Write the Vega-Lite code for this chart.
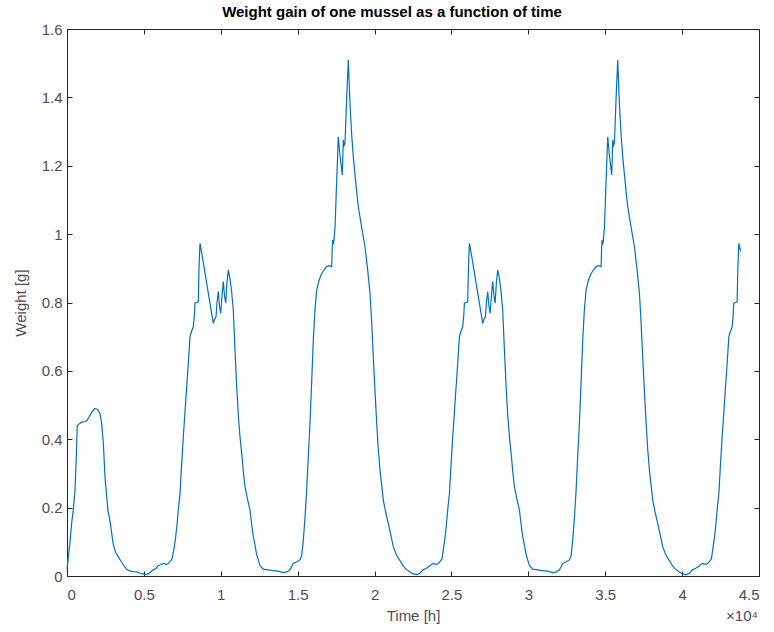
{
  "$schema": "https://vega.github.io/schema/vega-lite/v6.json",
  "autosize": {"type": "none"},
  "width": 692,
  "height": 547,
  "padding": {"left": 67, "top": 29, "right": 15, "bottom": 56},
  "background": "white",
  "title": {
    "text": "Weight gain of one mussel as a function of time",
    "font": "Liberation Sans",
    "fontSize": 15,
    "fontWeight": "bold",
    "color": "#000000",
    "anchor": "middle",
    "dx": -21,
    "offset": 2
  },
  "datasets": {
    "mussel": [
      {"t":0,"w":0.02},{"t":98,"w":0.06},{"t":195,"w":0.10},{"t":306,"w":0.155},{"t":423,"w":0.20},{"t":520,"w":0.25},{"t":605,"w":0.35},{"t":670,"w":0.44},{"t":780,"w":0.445},{"t":975,"w":0.45},{"t":1171,"w":0.452},{"t":1301,"w":0.455},{"t":1431,"w":0.465},{"t":1626,"w":0.48},{"t":1821,"w":0.49},{"t":1983,"w":0.487},{"t":2146,"w":0.475},{"t":2244,"w":0.45},{"t":2361,"w":0.39},{"t":2471,"w":0.29},{"t":2582,"w":0.232},{"t":2666,"w":0.19},{"t":2751,"w":0.173},{"t":2861,"w":0.14},{"t":3011,"w":0.092},{"t":3154,"w":0.07},{"t":3336,"w":0.056},{"t":3512,"w":0.043},{"t":3707,"w":0.03},{"t":3882,"w":0.019},{"t":4097,"w":0.015},{"t":4292,"w":0.013},{"t":4533,"w":0.012},{"t":4747,"w":0.008},{"t":4942,"w":0.006},{"t":5072,"w":0.004},{"t":5267,"w":0.006},{"t":5397,"w":0.01},{"t":5612,"w":0.018},{"t":5788,"w":0.022},{"t":5918,"w":0.03},{"t":6048,"w":0.032},{"t":6262,"w":0.037},{"t":6438,"w":0.034},{"t":6568,"w":0.036},{"t":6698,"w":0.042},{"t":6828,"w":0.05},
      {"t":6958,"w":0.08},{"t":7056,"w":0.11},{"t":7153,"w":0.15},{"t":7251,"w":0.2},{"t":7348,"w":0.24},{"t":7446,"w":0.32},{"t":7563,"w":0.407},{"t":7674,"w":0.48},{"t":7784,"w":0.554},{"t":7901,"w":0.63},{"t":7999,"w":0.70},{"t":8096,"w":0.715},{"t":8213,"w":0.729},{"t":8278,"w":0.76},{"t":8324,"w":0.798},{"t":8421,"w":0.80},{"t":8538,"w":0.802},{"t":8584,"w":0.90},{"t":8649,"w":0.973},{"t":8779,"w":0.94},{"t":8909,"w":0.905},{"t":9085,"w":0.856},{"t":9234,"w":0.815},{"t":9364,"w":0.78},{"t":9514,"w":0.739},{"t":9592,"w":0.75},{"t":9689,"w":0.758},{"t":9754,"w":0.80},{"t":9839,"w":0.832},{"t":9917,"w":0.79},{"t":9995,"w":0.768},{"t":10080,"w":0.82},{"t":10164,"w":0.861},{"t":10242,"w":0.82},{"t":10320,"w":0.798},{"t":10405,"w":0.86},{"t":10489,"w":0.895},{"t":10600,"w":0.87},{"t":10710,"w":0.83},{"t":10814,"w":0.778},{"t":10925,"w":0.66},{"t":11036,"w":0.554},{"t":11140,"w":0.47},{"t":11250,"w":0.407},{"t":11380,"w":0.35},{"t":11478,"w":0.30},{"t":11575,"w":0.261},{"t":11738,"w":0.225},{"t":11900,"w":0.193},{"t":11998,"w":0.155},{"t":12115,"w":0.115},{"t":12226,"w":0.09},{"t":12323,"w":0.065},{"t":12440,"w":0.047},{"t":12551,"w":0.03},{"t":12766,"w":0.02},{"t":13071,"w":0.018},{"t":13416,"w":0.016},{"t":13721,"w":0.014},{"t":14066,"w":0.01},{"t":14307,"w":0.012},{"t":14502,"w":0.018},{"t":14612,"w":0.027},{"t":14716,"w":0.037},{"t":14892,"w":0.04},{"t":15152,"w":0.047},{"t":15263,"w":0.06},{"t":15367,"w":0.105},{"t":15477,"w":0.17},{"t":15588,"w":0.252},{"t":15692,"w":0.35},{"t":15802,"w":0.447},{"t":15913,"w":0.57},{"t":16017,"w":0.69},{"t":16127,"w":0.78},{"t":16238,"w":0.837},{"t":16388,"w":0.865},{"t":16563,"w":0.885},{"t":16713,"w":0.895},{"t":16888,"w":0.905},{"t":17038,"w":0.908},{"t":17213,"w":0.905},{"t":17246,"w":0.96},{"t":17278,"w":0.983},{"t":17330,"w":0.97},{"t":17428,"w":1.017},{"t":17493,"w":1.10},{"t":17538,"w":1.158},{"t":17590,"w":1.22},{"t":17642,"w":1.285},{"t":17752,"w":1.23},{"t":17902,"w":1.173},{"t":17967,"w":1.275},{"t":18026,"w":1.26},{"t":18078,"w":1.266},{"t":18189,"w":1.40},{"t":18293,"w":1.509},{"t":18403,"w":1.38},{"t":18514,"w":1.29},{"t":18618,"w":1.226},{"t":18780,"w":1.15},{"t":18943,"w":1.08},{"t":19164,"w":1.02},{"t":19379,"w":0.963},{"t":19541,"w":0.90},{"t":19704,"w":0.827},{"t":19814,"w":0.74},{"t":19918,"w":0.641},{"t":20029,"w":0.54},{"t":20140,"w":0.447},{"t":20244,"w":0.37},{"t":20354,"w":0.31},{"t":20465,"w":0.265},{"t":20569,"w":0.222},{"t":20732,"w":0.185},{"t":20894,"w":0.154},{"t":21057,"w":0.12},{"t":21219,"w":0.086},{"t":21382,"w":0.066},{"t":21544,"w":0.052},{"t":21655,"w":0.045},{"t":21850,"w":0.03},{"t":22045,"w":0.02},{"t":22305,"w":0.012},{"t":22500,"w":0.006},{"t":22760,"w":0.004},{"t":22955,"w":0.008},{"t":23151,"w":0.018},{"t":23346,"w":0.022},{"t":23606,"w":0.03},{"t":23801,"w":0.037},{"t":23996,"w":0.034},{"t":24126,"w":0.036},{"t":24256,"w":0.042},{"t":24386,"w":0.05},
      {"t":24478,"w":0.08},{"t":24576,"w":0.11},{"t":24673,"w":0.15},{"t":24771,"w":0.2},{"t":24868,"w":0.24},{"t":24966,"w":0.32},{"t":25083,"w":0.407},{"t":25194,"w":0.48},{"t":25304,"w":0.554},{"t":25421,"w":0.63},{"t":25519,"w":0.70},{"t":25616,"w":0.715},{"t":25733,"w":0.729},{"t":25798,"w":0.76},{"t":25844,"w":0.798},{"t":25941,"w":0.80},{"t":26058,"w":0.802},{"t":26104,"w":0.90},{"t":26169,"w":0.973},{"t":26299,"w":0.94},{"t":26429,"w":0.905},{"t":26605,"w":0.856},{"t":26754,"w":0.815},{"t":26884,"w":0.78},{"t":27034,"w":0.739},{"t":27112,"w":0.75},{"t":27209,"w":0.758},{"t":27274,"w":0.80},{"t":27359,"w":0.832},{"t":27437,"w":0.79},{"t":27515,"w":0.768},{"t":27600,"w":0.82},{"t":27684,"w":0.861},{"t":27762,"w":0.82},{"t":27840,"w":0.798},{"t":27925,"w":0.86},{"t":28009,"w":0.895},{"t":28120,"w":0.87},{"t":28230,"w":0.83},{"t":28334,"w":0.778},{"t":28445,"w":0.66},{"t":28556,"w":0.554},{"t":28660,"w":0.47},{"t":28770,"w":0.407},{"t":28900,"w":0.35},{"t":28998,"w":0.30},{"t":29095,"w":0.261},{"t":29258,"w":0.225},{"t":29420,"w":0.193},{"t":29518,"w":0.155},{"t":29635,"w":0.115},{"t":29746,"w":0.09},{"t":29843,"w":0.065},{"t":29960,"w":0.047},{"t":30071,"w":0.03},{"t":30286,"w":0.02},{"t":30591,"w":0.018},{"t":30936,"w":0.016},{"t":31241,"w":0.014},{"t":31586,"w":0.01},{"t":31827,"w":0.012},{"t":32022,"w":0.018},{"t":32132,"w":0.027},{"t":32236,"w":0.037},{"t":32412,"w":0.04},{"t":32672,"w":0.047},{"t":32783,"w":0.06},{"t":32887,"w":0.105},{"t":32997,"w":0.17},{"t":33108,"w":0.252},{"t":33212,"w":0.35},{"t":33322,"w":0.447},{"t":33433,"w":0.57},{"t":33537,"w":0.69},{"t":33647,"w":0.78},{"t":33758,"w":0.837},{"t":33908,"w":0.865},{"t":34083,"w":0.885},{"t":34233,"w":0.895},{"t":34408,"w":0.905},{"t":34558,"w":0.908},{"t":34733,"w":0.905},{"t":34766,"w":0.96},{"t":34798,"w":0.983},{"t":34850,"w":0.97},{"t":34948,"w":1.017},{"t":35013,"w":1.10},{"t":35058,"w":1.158},{"t":35110,"w":1.22},{"t":35162,"w":1.285},{"t":35272,"w":1.23},{"t":35422,"w":1.173},{"t":35487,"w":1.275},{"t":35546,"w":1.26},{"t":35598,"w":1.266},{"t":35709,"w":1.40},{"t":35813,"w":1.509},{"t":35923,"w":1.38},{"t":36034,"w":1.29},{"t":36138,"w":1.226},{"t":36300,"w":1.15},{"t":36463,"w":1.08},{"t":36684,"w":1.02},{"t":36899,"w":0.963},{"t":37061,"w":0.90},{"t":37224,"w":0.827},{"t":37334,"w":0.74},{"t":37438,"w":0.641},{"t":37549,"w":0.54},{"t":37660,"w":0.447},{"t":37764,"w":0.37},{"t":37874,"w":0.31},{"t":37985,"w":0.265},{"t":38089,"w":0.222},{"t":38252,"w":0.185},{"t":38414,"w":0.154},{"t":38577,"w":0.12},{"t":38739,"w":0.086},{"t":38902,"w":0.066},{"t":39064,"w":0.052},{"t":39175,"w":0.045},{"t":39370,"w":0.03},{"t":39565,"w":0.02},{"t":39825,"w":0.012},{"t":40020,"w":0.006},{"t":40280,"w":0.004},{"t":40475,"w":0.008},{"t":40671,"w":0.018},{"t":40866,"w":0.022},{"t":41126,"w":0.03},{"t":41321,"w":0.037},{"t":41516,"w":0.034},{"t":41646,"w":0.036},{"t":41776,"w":0.042},{"t":41906,"w":0.05},
      {"t":41998,"w":0.08},{"t":42096,"w":0.11},{"t":42193,"w":0.15},{"t":42291,"w":0.2},{"t":42388,"w":0.24},{"t":42486,"w":0.32},{"t":42603,"w":0.407},{"t":42714,"w":0.48},{"t":42824,"w":0.554},{"t":42941,"w":0.63},{"t":43039,"w":0.70},{"t":43136,"w":0.715},{"t":43253,"w":0.729},{"t":43318,"w":0.76},{"t":43364,"w":0.798},{"t":43461,"w":0.80},{"t":43578,"w":0.802},{"t":43624,"w":0.90},{"t":43689,"w":0.973},{"t":43800,"w":0.95}
    ]
  },
  "layer": [
    {
      "data": {"name": "mussel"},
      "mark": {"type": "line", "color": "#0072BD", "strokeWidth": 1.2, "interpolate": "linear"},
      "encoding": {
        "x": {
          "field": "t", "type": "quantitative",
          "scale": {"domain": [0, 45000], "nice": false, "zero": false},
          "axis": {
            "orient": "bottom",
            "title": "Time [h]",
            "values": [0, 5000, 10000, 15000, 20000, 25000, 30000, 35000, 40000, 45000],
            "labelExpr": "format(datum.value / 10000, '.1~f')",
            "tickSize": -5,
            "labelPadding": 16,
            "titlePadding": 6
          }
        },
        "y": {
          "field": "w", "type": "quantitative",
          "scale": {"domain": [0, 1.6], "nice": false},
          "axis": {
            "orient": "left",
            "title": "Weight [g]",
            "values": [0, 0.2, 0.4, 0.6, 0.8, 1, 1.2, 1.4, 1.6],
            "labelExpr": "format(datum.value, '.1~f')",
            "tickSize": -5,
            "labelPadding": 10,
            "titlePadding": 13
          }
        }
      }
    },
    {
      "data": {"name": "mussel"},
      "mark": {"type": "line", "opacity": 0},
      "encoding": {
        "x": {
          "field": "t", "type": "quantitative",
          "axis": {
            "orient": "top", "title": null, "labels": false,
            "values": [0, 5000, 10000, 15000, 20000, 25000, 30000, 35000, 40000, 45000],
            "tickSize": -5
          }
        },
        "y": {
          "field": "w", "type": "quantitative",
          "axis": {
            "orient": "right", "title": null, "labels": false,
            "values": [0, 0.2, 0.4, 0.6, 0.8, 1, 1.2, 1.4, 1.6],
            "tickSize": -5
          }
        }
      }
    },
    {
      "data": {"values": [{"s": "×10⁴"}]},
      "mark": {"type": "text", "align": "right", "baseline": "alphabetic", "dy": 45, "dx": -1, "font": "Liberation Sans", "fontSize": 15, "color": "#4d4d4d"},
      "encoding": {
        "x": {"datum": 45000, "type": "quantitative", "axis": null},
        "y": {"datum": 0, "type": "quantitative", "axis": null},
        "text": {"field": "s"}
      }
    }
  ],
  "resolve": {"axis": {"x": "independent", "y": "independent"}},
  "config": {
    "view": {"stroke": null},
    "axis": {
      "grid": false,
      "domainColor": "#262626",
      "domainWidth": 1,
      "tickColor": "#262626",
      "tickWidth": 1,
      "labelFont": "Liberation Sans",
      "labelFontSize": 15,
      "labelColor": "#4d4d4d",
      "titleFont": "Liberation Sans",
      "titleFontSize": 15,
      "titleFontWeight": "normal",
      "titleColor": "#4d4d4d"
    }
  }
}
